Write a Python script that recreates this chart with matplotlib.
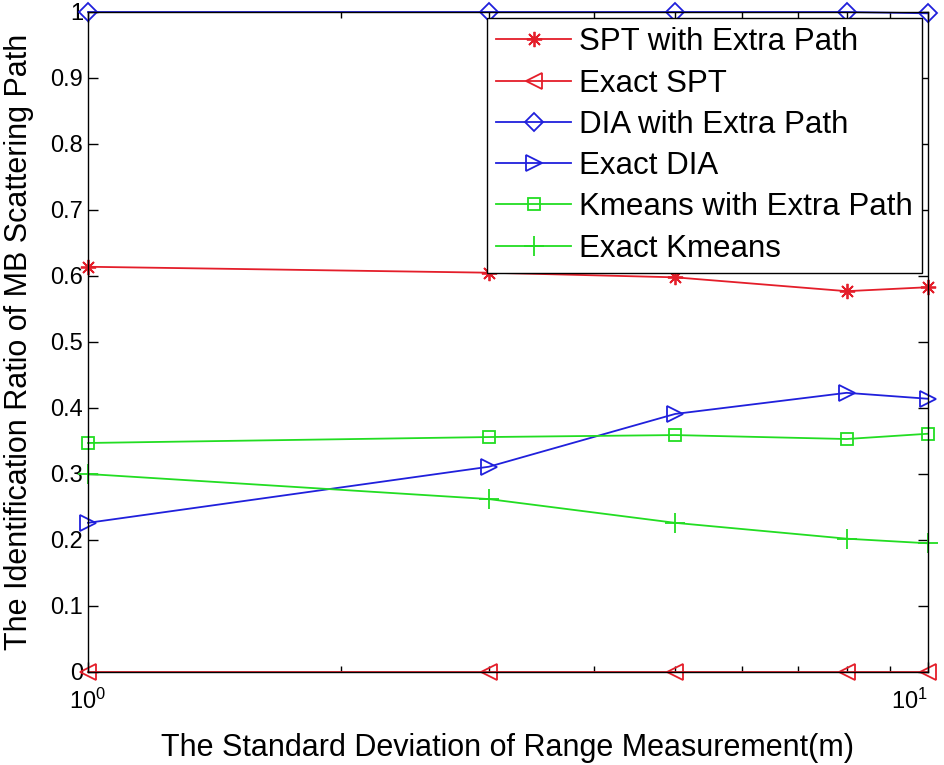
import matplotlib
matplotlib.use("Agg")
import matplotlib.pyplot as plt
from matplotlib.ticker import FixedLocator, NullFormatter

plt.rcParams['font.family'] = ['Liberation Sans', 'DejaVu Sans']

x = [1, 3, 5, 8, 10]
spt_extra = [0.614, 0.605, 0.598, 0.577, 0.583]
spt_exact = [0.0, 0.0, 0.0, 0.0, 0.0]
dia_extra = [1.0, 1.0, 1.0, 1.0, 0.998]
dia_exact = [0.226, 0.311, 0.391, 0.423, 0.414]
km_extra = [0.347, 0.356, 0.359, 0.353, 0.361]
km_exact = [0.300, 0.262, 0.226, 0.202, 0.195]

labels = ["SPT with Extra Path", "Exact SPT", "DIA with Extra Path",
          "Exact DIA", "Kmeans with Extra Path", "Exact Kmeans"]

fig = plt.figure(figsize=(9.44, 7.65), dpi=100)
ax = fig.add_axes([88/944, 1-672/765, 840/944, 660/765])

red = '#E41E2A'
blue = '#2020DC'
green = '#22DD22'
lw = 1.3
ms = 11
common = dict(lw=lw, clip_on=False, mfc='none', mew=1.3)
ax.plot(x, spt_extra, color=red, marker=(8, 2, 0), ms=ms, label=labels[0], **common)
ax.plot(x, spt_exact, color=red, marker='<', ms=ms, label=labels[1], **common)
ax.plot(x, dia_extra, color=blue, marker='D', ms=9, label=labels[2], **common)
ax.plot(x, dia_exact, color=blue, marker='>', ms=ms + 1, label=labels[3], **common)
ax.plot(x, km_extra, color=green, marker='s', ms=9, label=labels[4], **common)
ax.plot(x, km_exact, color=green, marker='+', ms=ms + 3, label=labels[5], **common)

ax.set_xscale('log')
ax.set_xlim(1, 10)
ax.set_ylim(0, 1)
ax.set_yticks([i / 10 for i in range(11)])
ax.set_yticklabels(['0'] + ['%.1f' % (i / 10) for i in range(1, 10)] + ['1'])
ax.set_xticks([1, 10])
ax.set_xticklabels(['$\\mathregular{10^0}$', '$\\mathregular{10^1}$'])
ax.xaxis.set_minor_locator(FixedLocator([2, 3, 4, 5, 6, 7, 8, 9]))
ax.xaxis.set_minor_formatter(NullFormatter())
ax.tick_params(axis='both', which='both', direction='in', top=True, right=True,
               labelsize=17, width=1.0, colors='black')
ax.tick_params(axis='both', which='major', length=7)
ax.tick_params(axis='x', which='minor', length=4)
ax.tick_params(axis='x', which='major', pad=12)
xt = ax.get_xticklabels()
xt[-1].set_horizontalalignment('right')
xt[-1].set_x(10)
for s in ax.spines.values():
    s.set_linewidth(1.0)

ax.set_xlabel('The Standard Deviation of Range Measurement(m)', fontsize=22, labelpad=14)
ax.set_ylabel('The Identification Ratio of MB Scattering Path', fontsize=22, labelpad=12)

leg = ax.legend(loc='upper right', bbox_to_anchor=(0.993, 0.991), fontsize=22.5,
                frameon=True, fancybox=False, edgecolor='black', framealpha=1,
                borderaxespad=0, handlelength=2.4, labelspacing=0.36,
                borderpad=0.3, handletextpad=0.25)
leg.get_frame().set_linewidth(1.0)

fig.savefig('out.png', dpi=100)
